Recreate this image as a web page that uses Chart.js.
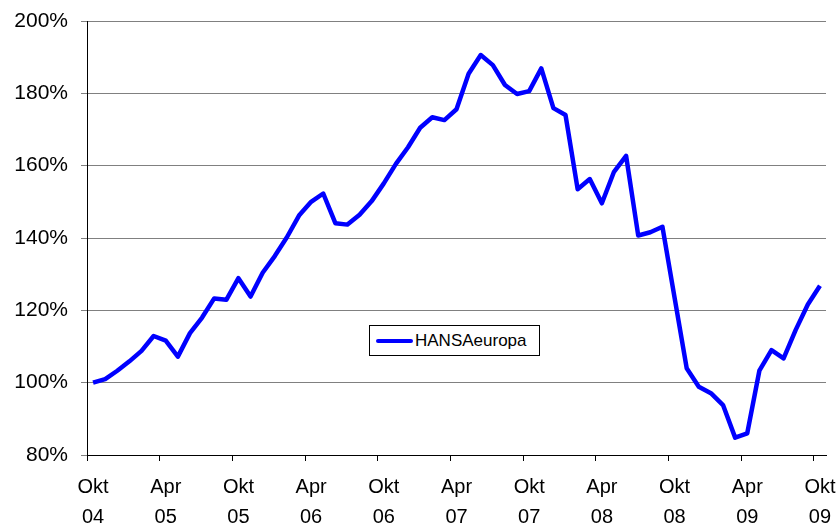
<!DOCTYPE html>
<html>
<head>
<meta charset="utf-8">
<script src="https://cdn.jsdelivr.net/npm/chart.js@4/dist/chart.umd.min.js"></script>
<style>
  body { margin: 0; background: #fff; }
  #wrap { position: relative; width: 840px; height: 524px; }
  #legend {
    position: absolute; left: 369px; top: 325px; width: 171px; height: 31px;
    box-sizing: border-box; border: 1px solid #000; background: #fff;
    font-family: 'Liberation Sans', Arial, sans-serif; font-size: 17px; color: #000;
  }
  #legend .swatch { position: absolute; left: 6px; top: 13px; width: 37px; height: 4px; border-radius: 2px; }
  #legend .txt { position: absolute; left: 45px; top: 5px; white-space: nowrap; }
</style>
</head>
<body>
<div id="wrap">
  <canvas id="line_chart1" width="840" height="524"></canvas>
  <div id="legend"></div>
</div>
<script>
// German month names, chart runs Okt 04 .. Okt 09
const monthNames = ['Jan', 'Feb', 'Mrz', 'Apr', 'Mai', 'Jun', 'Jul', 'Aug', 'Sep', 'Okt', 'Nov', 'Dez'];
const months = [];
for (let n = 9; n <= 9 + 60; n++) {
  const yy = 4 + Math.floor(n / 12);
  months.push(monthNames[n % 12] + ' ' + String(yy).padStart(2, '0'));
}

const seriesName = 'HANSAeuropa';
const hansaValues = [
  100, 101, 103.3, 105.9, 108.8, 112.9, 111.6, 107.2, 113.7, 118,
  123.3, 122.9, 128.9, 123.8, 130.4, 135, 140.2, 146.2, 150, 152.3,
  144.1, 143.7, 146.4, 150.2, 155.1, 160.5, 165.1, 170.5, 173.4, 172.6,
  175.6, 185.4, 190.6, 187.8, 182.3, 179.8, 180.6, 186.9, 175.9, 174,
  153.5, 156.3, 149.6, 158.3, 162.7, 140.7, 141.6, 143.1, 123.5, 104,
  98.9, 97.1, 93.8, 84.8, 86, 103.3, 109, 106.7, 114.6, 121.6,
  126.8
];

const yTicks = [80, 100, 120, 140, 160, 180, 200];
const lineColor = '#0000ff';

const chartData1 = {
  labels: months,
  datasets: [{
    label: seriesName,
    data: hansaValues,
    fill: false,
    borderColor: lineColor,
    borderWidth: 4.5,
    borderJoinStyle: 'round',
    pointRadius: 0,
    tension: 0
  }]
};

const font = { family: "'Liberation Sans', Arial, sans-serif", size: 21 };

const ctx1 = document.getElementById('line_chart1').getContext('2d');
const chart1 = new Chart(ctx1, {
  type: 'line',
  data: chartData1,
  options: {
    responsive: false,
    animation: false,
    devicePixelRatio: 1,
    layout: { padding: { top: 21, right: 14, left: 0, bottom: 0 } },
    plugins: { legend: { display: false }, tooltip: { enabled: false } },
    scales: {
      x: {
        offset: true,
        grid: {
          offset: true,
          drawOnChartArea: false,
          drawTicks: true,
          tickLength: 6,
          color: (c) => (c.index !== undefined && c.index % 6 === 0) ? '#000' : 'rgba(0,0,0,0)'
        },
        border: { display: true, color: '#000', width: 1 },
        ticks: {
          autoSkip: false,
          maxRotation: 0,
          minRotation: 0,
          padding: 11,
          color: '#000',
          font: { family: font.family, size: 20, lineHeight: 1.5 },
          callback: (v, i) => i % 6 === 0 ? months[i].split(' ') : ''
        },
        afterFit: (axis) => { axis.height = 69; axis.paddingLeft = 0; axis.paddingRight = 0; }
      },
      y: {
        min: 80,
        max: 200,
        afterBuildTicks: (axis) => { axis.ticks = yTicks.map(v => ({ value: v })); },
        grid: { color: '#808080', lineWidth: 1, tickLength: 6 },
        border: { display: true, color: '#000', width: 1 },
        ticks: {
          padding: 13,
          color: '#000',
          font: font,
          callback: (v) => v + '%'
        },
        afterFit: (axis) => { axis.width = 87; axis.paddingTop = 0; axis.paddingBottom = 0; }
      }
    }
  }
});

// legend box drawn inside the plot like the original
const leg = document.getElementById('legend');
leg.innerHTML = '<span class="swatch" style="background:' + lineColor + '"></span><span class="txt">' + seriesName + '</span>';
</script>
</body>
</html>
